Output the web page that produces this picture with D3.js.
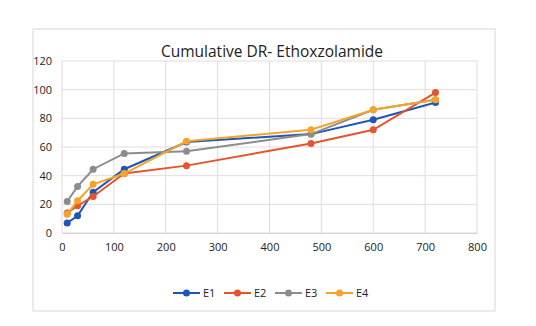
<!DOCTYPE html>
<html>
<head>
<meta charset="utf-8">
<script src="https://cdn.jsdelivr.net/npm/d3@7"></script>
<style>
  body { margin: 0; background: #fff; }
  text { font-family: "Open Sans", "Liberation Sans", sans-serif; fill: #222; }
</style>
</head>
<body>
<div id="viz-container"></div>
<script>
let w = 536;
let h = 326;

// time points (x) and cumulative release for each batch
const times = [10, 30, 60, 120, 240, 480, 600, 720];
const seriesNames = ["E1", "E2", "E3", "E4"];
const e1 = [7, 12, 28.5, 44.5, 63.5, 69, 79, 91];
const e2 = [14, 19, 25.5, 41.5, 47, 62.5, 72, 98];
const e3 = [22, 32.5, 44.5, 55.5, 57, 69, 86, 93];
const e4 = [13, 22.5, 34, 41.5, 64, 72, 86, 93];
const xTicks = [0, 100, 200, 300, 400, 500, 600, 700, 800];
const yTicks = [0, 20, 40, 60, 80, 100, 120];
const colors = ["#1f55b5", "#e2562d", "#8c8c8c", "#f4a428"];

let allSeries = [e1, e2, e3, e4];

let viz = d3.select("#viz-container")
  .append("svg")
  .attr("width", w)
  .attr("height", h)
  .style("background-color", "#ffffff");

// outer chart frame (faint, like the printed chart box)
viz.append("rect")
  .attr("x", 33).attr("y", 29)
  .attr("width", 462).attr("height", 282)
  .attr("fill", "none")
  .attr("stroke", "#dcd6d8")
  .attr("stroke-width", 1);

let x = d3.scaleLinear().domain([0, 800]).range([62, 477]);
let y = d3.scaleLinear().domain([0, 120]).range([233, 61]);

// grid
viz.append("g").selectAll("line.h").data(yTicks).enter().append("line")
  .attr("x1", x(0)).attr("x2", x(800))
  .attr("y1", d => y(d)).attr("y2", d => y(d))
  .attr("stroke", "#e6d9dd").attr("stroke-width", 1);
viz.append("g").selectAll("line.v").data(xTicks).enter().append("line")
  .attr("y1", y(0)).attr("y2", y(120))
  .attr("x1", d => x(d)).attr("x2", d => x(d))
  .attr("stroke", "#e6d9dd").attr("stroke-width", 1);

// axes labels
let xAxis = d3.axisBottom(x).tickValues(xTicks).tickSize(0).tickPadding(10);
let yAxis = d3.axisLeft(y).tickValues(yTicks).tickSize(0).tickPadding(10);
let gx = viz.append("g").attr("transform", `translate(0,${y(0)})`).call(xAxis);
let gy = viz.append("g").attr("transform", `translate(${x(0)},0)`).call(yAxis);
gx.select(".domain").attr("stroke", "#d8d0d3");
gy.select(".domain").remove();
viz.selectAll(".tick text")
  .attr("font-size", 11)
  .attr("font-family", "Open Sans, sans-serif")
  .attr("fill", "#333");

// title
viz.append("text")
  .text("Cumulative DR- Ethoxzolamide")
  .attr("x", 272).attr("y", 57)
  .attr("text-anchor", "middle")
  .attr("font-size", 15.5)
  .attr("fill", "#222");

let line = d3.line()
  .x((d, i) => x(times[i]))
  .y(d => y(d));

allSeries.forEach((s, k) => {
  let g = viz.append("g");
  g.append("path")
    .attr("d", line(s))
    .attr("fill", "none")
    .attr("stroke", colors[k])
    .attr("stroke-width", 2);
  g.selectAll("circle").data(s).enter().append("circle")
    .attr("cx", (d, i) => x(times[i]))
    .attr("cy", d => y(d))
    .attr("r", 3.5)
    .attr("fill", colors[k]);
});

// legend
let legend = viz.append("g").attr("transform", "translate(173,293)");
seriesNames.forEach((name, k) => {
  let item = legend.append("g").attr("transform", `translate(${k * 51},0)`);
  item.append("line")
    .attr("x1", 0).attr("x2", 27)
    .attr("y1", 0).attr("y2", 0)
    .attr("stroke", colors[k]).attr("stroke-width", 2);
  item.append("circle")
    .attr("cx", 13.5).attr("cy", 0).attr("r", 3.5)
    .attr("fill", colors[k]);
  item.append("text")
    .text(name)
    .attr("x", 30).attr("y", 4)
    .attr("font-size", 11)
    .attr("fill", "#333");
});
</script>
</body>
</html>
